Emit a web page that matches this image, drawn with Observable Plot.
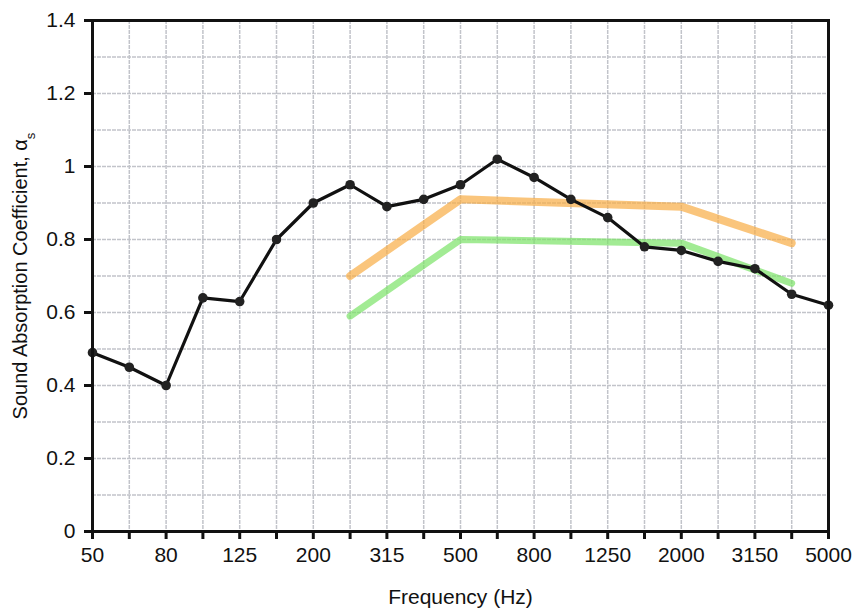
<!DOCTYPE html>
<html><head><meta charset="utf-8">
<script src="https://cdn.jsdelivr.net/npm/d3@7"></script>
<script src="https://cdn.jsdelivr.net/npm/@observablehq/plot@0.6"></script>
<style>body{margin:0;background:#fff}</style>
</head><body><div id="chart"></div>
<script>
const bands = ["50","63","80","100","125","160","200","250","315","400","500","630","800","1000","1250","1600","2000","2500","3150","4000","5000"];
const measured = [0.49,0.45,0.40,0.64,0.63,0.80,0.90,0.95,0.89,0.91,0.95,1.02,0.97,0.91,0.86,0.78,0.77,0.74,0.72,0.65,0.62];
const upperBands = ["250","500","2000","4000"];
const upperValues = [0.70,0.91,0.89,0.79];
const lowerBands = ["250","500","2000","4000"];
const lowerValues = [0.59,0.80,0.79,0.68];
const yTicks = [0,0.2,0.4,0.6,0.8,1,1.2,1.4];
const yGrid = [0.1,0.2,0.3,0.4,0.5,0.6,0.7,0.8,0.9,1.0,1.1,1.2,1.3];

const idx = (b) => bands.indexOf(b);
const bandIdx = bands.map((b,i)=>i);
const measuredData = bands.map((b,i)=>({f:idx(b),a:measured[i]}));
const upperData = upperBands.map((b,i)=>({f:idx(b),a:upperValues[i]}));
const lowerData = lowerBands.map((b,i)=>({f:idx(b),a:lowerValues[i]}));

const chart = Plot.plot({
  width: 863, height: 610,
  marginLeft: 92, marginRight: 35, marginTop: 20, marginBottom: 79,
  style: {fontFamily: "'Liberation Sans', Arial, sans-serif", color: "#111", background: "#fff"},
  x: {type: "linear", domain: [0, bands.length - 1]},
  y: {domain: [0, 1.4]},
  marks: [
    Plot.ruleX(bandIdx, {stroke: "#c2c4ca", strokeWidth: 1.5, strokeDasharray: "4,1"}),
    Plot.ruleY(yGrid, {stroke: "#c2c4ca", strokeWidth: 1.5, strokeDasharray: "4,1"}),
    Plot.line(upperData, {x: "f", y: "a", stroke: "#f8ad45", strokeOpacity: 0.7, strokeWidth: 8}),
    Plot.line(lowerData, {x: "f", y: "a", stroke: "#7ae266", strokeOpacity: 0.7, strokeWidth: 7}),
    Plot.line(measuredData, {x: "f", y: "a", stroke: "#111", strokeWidth: 3.2}),
    Plot.dot(measuredData, {x: "f", y: "a", fill: "#222", r: 4.8}),
    Plot.frame({stroke: "#111", strokeWidth: 3}),
    Plot.axisX({ticks: bandIdx, tickSize: 8, tickPadding: 8, strokeWidth: 3, fontSize: 21,
      tickFormat: (i) => i % 2 === 0 ? bands[i] : "",
      label: "Frequency (Hz)", labelAnchor: "center", labelArrow: "none", labelOffset: 72}),
    Plot.axisY({ticks: yTicks, tickSize: 8, tickPadding: 9, strokeWidth: 3, fontSize: 21,
      tickFormat: (d) => String(+d.toFixed(1)),
      label: "Sound Absorption Coefficient, α", labelAnchor: "center", labelArrow: "none", labelOffset: 80})
  ]
});
document.getElementById("chart").appendChild(chart);
chart.querySelectorAll("[aria-label='x-axis tick label'], [aria-label='y-axis tick label']").forEach(g => {
  g.setAttribute("font-size", 21);
  g.style.fontSize = "21px";
  g.querySelectorAll("text").forEach(t => t.setAttribute("font-size", 21));
});
chart.querySelectorAll("[aria-label='y-axis label'] text, [aria-label='x-axis label'] text").forEach(t => {
  t.setAttribute("font-size", t.closest("[aria-label='y-axis label']") ? 20 : 21);
});
const yl = chart.querySelector("[aria-label='y-axis label'] text");
if (yl) {
  const ts = document.createElementNS("http://www.w3.org/2000/svg", "tspan");
  ts.setAttribute("baseline-shift", "sub");
  ts.setAttribute("font-size", 13);
  ts.textContent = "s";
  yl.appendChild(ts);
}
</script>
</body></html>
